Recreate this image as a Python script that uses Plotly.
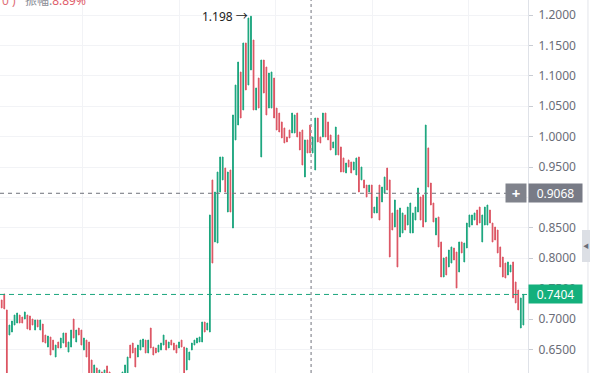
import plotly.graph_objects as go

# ---- data (price units) ----
highs = [
    .7313, .7412, .7149, .6901, .6967, .7066, .7099, .7066, .7033, .7116,
    .7066, .7050, .7000, .6984, .6984, .6984, .6918, .6737, .6720, .6704,
    .6654, .6572, .6622, .6687, .6770, .6770, .6622, .6819, .7000, .6819,
    .6852, .6819, .6687, .6654, .6622, .6326, .6244, .6195, .6162, .6129,
    .6162, .6228, .6129, .6080, .6030, .6063, .6096, .6129, .6244, .6375,
    .6572, .6605, .6523, .6572, .6654, .6671, .6654, .6654, .6852, .6539,
    .6523, .6572, .6605, .6737, .6654, .6622, .6654, .6605, .6572, .6622,
    .6654, .6539, .6523, .6457, .6605, .6654, .6687, .6704, .6951, .6951,
    .6934, .8711, .9287, .9089, .9418, .9665, .9665, .9484, .9418, .9451,
    1.0356, 1.0849, 1.1227, 1.1063, 1.1540, 1.1540, 1.1951, 1.1980, 1.1589, 1.0800,
    1.0964, 1.1260, 1.1260, 1.1145, 1.1046, 1.1063, 1.0964, 1.0470, 1.0388, 1.0241,
    1.0142, .9994, 1.0109, 1.0388, 1.0356, 1.0388, 1.0076, 1.0109, .9945, .9945,
    1.0191, .9994, 1.0306, 1.0306, .9994, 1.0388, 1.0388, 1.0241, 1.0027, .9912,
    1.0158, 1.0027, .9830, .9649, .9566, .9616, .9583, .9583, .9649, .9665,
    .9500, .9287, .9204, .9204, .9204, .8842, .9007, .9204, .9171, .9336,
    .9484, .9287, .8744, .8958, .8793, .8826, .8744, .8711, .8842, .8908,
    .8744, .8842, .9155, .9007, .9040, 1.0191, .9814, .9237, .8908, .8661,
    .8678, .8267, .8004, .8020, .8135, .8185, .8168, .8102, .8267, .8267,
    .8250, .8579, .8711, .8711, .8744, .8793, .8842, .8711, .8842, .8875,
    .8793, .8579, .8513, .8464, .8185, .8020, .7921, .7938, .7888, .7938,
    .7609, .7477, .7346, .7404,
]
lows = [
    .7182, .7165, .5915, .6737, .6786, .6901, .6934, .6934, .6934, .7000,
    .6836, .6819, .6901, .6819, .6869, .6819, .6622, .6605, .6539, .6408,
    .6490, .6375, .6523, .6523, .6605, .6539, .6457, .6539, .6687, .6622,
    .6737, .6572, .6490, .6375, .5997, .5915, .5833, .5800, .5750, .5750,
    .5833, .5915, .5800, .5701, .5750, .5800, .5833, .5866, .5997, .6080,
    .6359, .6441, .6211, .6375, .6490, .6539, .6441, .6441, .6523, .6408,
    .6441, .6457, .6490, .6572, .6490, .6523, .6572, .6490, .6441, .6523,
    .6539, .6000, .6162, .6326, .6490, .6572, .6605, .6622, .6622, .6786,
    .6819, .6786, .7921, .8267, .8250, .9089, .9287, .9089, .8760, .8760,
    .8497, .9945, 1.0191, 1.0306, 1.0438, 1.0767, 1.0849, 1.1096, 1.0438, 1.0438,
    1.0470, .9665, 1.0717, 1.0356, 1.0470, 1.0470, 1.0306, 1.0109, 1.0076, .9978,
    .9896, .9912, .9978, 1.0060, 1.0060, .9994, .9780, .9533, .9336, .9731,
    .9731, .9731, .9451, .9912, .9896, .9994, .9994, .9945, .9780, .9814,
    .9698, .9698, .9418, .9418, .9402, .9500, .9402, .9451, .9369, .9089,
    .9287, .9155, .9007, .9089, .8661, .8744, .8744, .8628, .8925, .9073,
    .9122, .8020, .8464, .8513, .7856, .8349, .8415, .8464, .8546, .8415,
    .8415, .8628, .8760, .8628, .8513, .8596, .9171, .8875, .8596, .8382,
    .8185, .7691, .7691, .7724, .7856, .7921, .7971, .7510, .7773, .8086,
    .7938, .8168, .8513, .8546, .8628, .8546, .8579, .8267, .8546, .8546,
    .8579, .8267, .8300, .8086, .7856, .7691, .7675, .7724, .7773, .7346,
    .7264, .7149, .6852, .6901,
]
# one per candle: U = rising (green), D = falling (red)
direction = list(
    "DDDUUUUDDU" "DDDUDUDDUD" "DUDUUDUUDU" "DDUDDDUDUD"
    "UDDUDUUUUU" "DDDUUUDUDD" "DUUUDUDDDU" "DDUUUUUUUD"
    "UUDUUUUDUD" "UUUDUDUUDU" "DUDDUUDDDD" "DDDUUDDDUD"
    "DUUDDUDDDU" "UDDDUDDUUD" "UDDUDUUDUU" "DDDUDUUDUU"
    "UUUDDUDDDU" "DDUDUUDDUD" "UUUUUDDUUU" "DDDDDDDUUD"
    "DDUU"
)

n = len(highs)
idx = list(range(n))
opens = [lows[i] if direction[i] == "U" else highs[i] for i in range(n)]
closes = [highs[i] if direction[i] == "U" else lows[i] for i in range(n)]

last_price = 0.7404
cross_price = 0.9068
cross_index = 120.4
peak_index = 97
peak_value = 1.198

GREEN = "#1aa57d"
RED = "#dc5462"

fig = go.Figure()
fig.add_trace(go.Candlestick(
    x=idx, open=opens, high=highs, low=lows, close=closes,
    increasing=dict(line=dict(color=GREEN, width=1), fillcolor=GREEN),
    decreasing=dict(line=dict(color=RED, width=1), fillcolor=RED),
    whiskerwidth=0, hoverinfo="skip", showlegend=False,
))

FONT = "Noto Sans, Noto Sans CJK SC, sans-serif"

fig.update_layout(
    width=600, height=373,
    margin=dict(l=0, r=72, t=0, b=0, pad=0),
    paper_bgcolor="white", plot_bgcolor="white",
    boxgap=0.6,
    font=dict(family=FONT, size=12, color="#6a6d78"),
    xaxis=dict(
        range=[-0.66, 204.8], rangeslider=dict(visible=False),
        showticklabels=False, ticks="", showgrid=True, gridcolor="#f2f3f6",
        tick0=31.6, dtick=37.5, zeroline=False, showline=False,
        fixedrange=True, automargin=False,
    ),
    yaxis=dict(
        side="right", range=[0.6112, 1.2247], tick0=0.6, dtick=0.05,
        tickformat=".4f", showgrid=True, gridcolor="#f2f3f6",
        ticks="outside", ticklen=4, tickcolor="#c9ccd3",
        showline=True, linecolor="#dfe2e8", linewidth=1,
        zeroline=False, ticklabelstandoff=3, automargin=False,
        tickfont=dict(size=12, color="#6a6d78"), fixedrange=True,
    ),
    shapes=[
        dict(type="line", xref="paper", x0=0, x1=1, yref="y",
             y0=cross_price, y1=cross_price,
             line=dict(color="#6e7079", width=1, dash="4px,4px")),
        dict(type="line", xref="paper", x0=0, x1=1, yref="y",
             y0=last_price, y1=last_price,
             line=dict(color="#1aa57d", width=1, dash="5px,4px")),
        dict(type="line", xref="x", x0=cross_index, x1=cross_index,
             yref="paper", y0=0, y1=1,
             line=dict(color="#a0a2a8", width=1.5, dash="3px,3px")),
        dict(type="line", xref="paper", x0=1.1136, x1=1.1136,
             yref="paper", y0=0, y1=1, line=dict(color="#e3e5ea", width=1)),
        dict(type="rect", xref="paper", x0=1.1023, x1=1.1174,
             yref="paper", y0=0.2976, y1=0.3834,
             fillcolor="#dcdfe5", line=dict(width=0)),
    ],
    annotations=[
        dict(xref="x", yref="y", x=peak_index, y=peak_value,
             text=f"{peak_value:.3f} →", showarrow=False,
             xanchor="right", yanchor="middle", xshift=-1,
             font=dict(size=12, color="#222")),
        dict(xref="paper", yref="paper", x=0, y=1, xanchor="left",
             yanchor="middle", showarrow=False, align="left",
             text="<span style='color:#e0707a'>0 )</span>   振幅:"
                  "<span style='color:#e0606c'>8.89%</span>",
             font=dict(size=12, color="#8a8d96")),
        dict(xref="paper", yref="y", x=1, y=last_price, xanchor="left",
             yanchor="middle", showarrow=False, text=f"{last_price:.4f}",
             bgcolor="#14b07c", width=47, height=12, borderpad=3,
             font=dict(size=12, color="white")),
        dict(xref="paper", yref="y", x=1, y=cross_price, xanchor="left",
             yanchor="middle", showarrow=False, text=f"{cross_price:.4f}",
             bgcolor="#787b86", width=47, height=12, borderpad=3,
             font=dict(size=12, color="white")),
        dict(xref="paper", yref="y", x=1, y=cross_price, xanchor="right",
             yanchor="middle", showarrow=False, text="<b>+</b>",
             bgcolor="#80838c", width=14, height=12, borderpad=3, xshift=-1,
             font=dict(size=15, color="white")),
        dict(xref="paper", yref="paper", x=1.1098, y=0.3405, xanchor="center",
             yanchor="middle", showarrow=False, text="◀",
             font=dict(size=6, color="#6a6d78")),
    ],
)

fig.write_html(
    "out.html",
    config={"displayModeBar": False, "staticPlot": True},
    post_script="document.body.style.margin='0';document.body.style.overflow='hidden';",
)
